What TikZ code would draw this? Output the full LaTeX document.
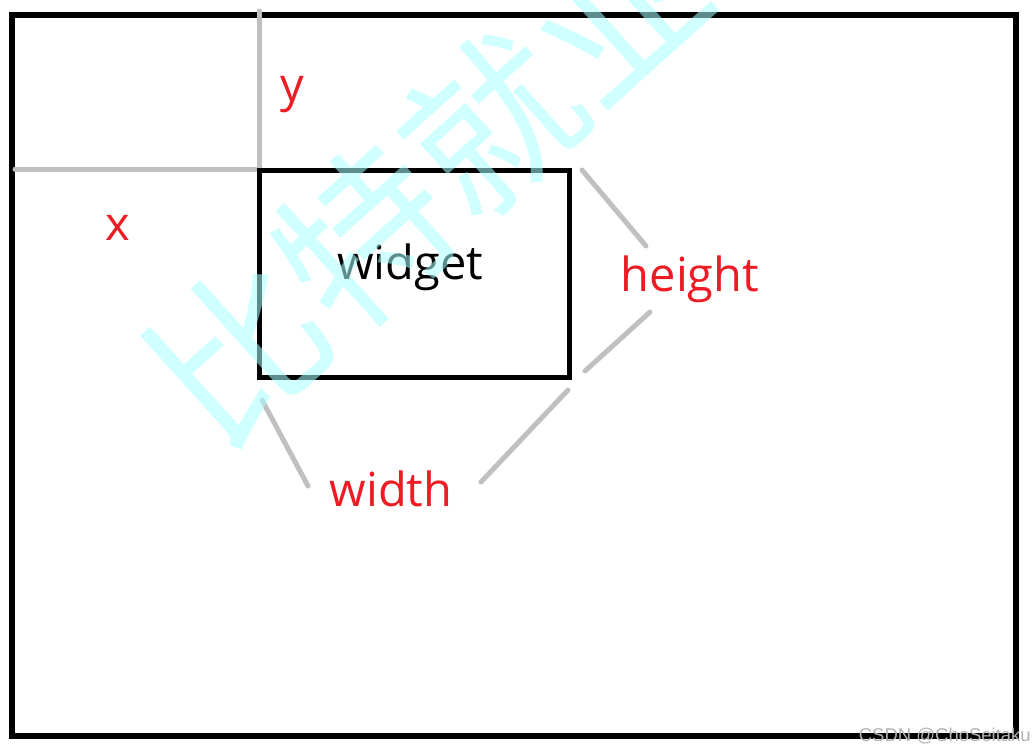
\documentclass[tikz,border=0pt]{standalone}
\usepackage{fontspec}
\setmainfont{Open Sans}
\newfontfamily\cjkwm{Noto Sans CJK SC}
\newfontfamily\credfont{Liberation Sans}
\definecolor{lblred}{RGB}{237,28,36}
\definecolor{guide}{RGB}{192,192,192}
\definecolor{wmcyan}{RGB}{170,255,255}
\tikzset{
  frameline/.style={draw=black,line width=6pt},
  guideline/.style={draw=guide,line width=5pt,line cap=round},
  lbl/.style={text=lblred,font=\fontsize{47}{56}\selectfont,inner sep=0pt},
  wbox/.style={draw=black,line width=5pt,minimum width=310pt,minimum height=207pt,inner sep=0pt,outer sep=0pt},
}
\begin{document}
\begin{tikzpicture}[x=1pt,y=-1pt]
\useasboundingbox (0,0) rectangle (1035,753);
% outer frame
\draw[frameline] (12,15) rectangle (1016,736);
% guide lines for x / y offsets
\coordinate (ytop) at (259,11);
\coordinate (corner) at (259,169);
\coordinate (xleft) at (15,169);
\draw[guideline] (ytop) -- (corner);
\draw[guideline] (xleft) -- (corner);
% widget box
\node[wbox] (box) at (414,273.5) {};
\node[text=black,font=\fontsize{47}{56}\selectfont,inner sep=0pt] (wtext) at (410,267) {widget};
% labels
\node[lbl] (ylbl) at (292,95) {y};
\node[lbl] (xlbl) at (118,228) {x};
\node[lbl] (hlbl) at (690,279) {height};
\node[lbl] (wlbl) at (391,489) {width};
% label connectors
\coordinate (h1a) at (582,170);
\coordinate (h1b) at (646,246);
\coordinate (h2a) at (650,312);
\coordinate (h2b) at (585,371);
\coordinate (w1a) at (262,400);
\coordinate (w1b) at (308,486);
\coordinate (w2a) at (568,390);
\coordinate (w2b) at (481,482);
\draw[guideline] (h1a) -- (h1b);
\draw[guideline] (h2a) -- (h2b);
\draw[guideline] (w1a) -- (w1b);
\draw[guideline] (w2a) -- (w2b);
% watermark
\begin{scope}
\clip (0,0) rectangle (1035,753);
\node[text=wmcyan,opacity=0.55,rotate=42,font=\cjkwm\fontsize{170}{170}\selectfont,inner sep=0pt] (wm) at (428,180) {比特就业};
\end{scope}
% credit
\node[text=gray!60,font=\credfont\fontsize{18.5}{22}\selectfont,anchor=base east,inner sep=0pt] (credit) at (1031,741) {CSDN @ChoSeitaku};
\end{tikzpicture}
\end{document}
